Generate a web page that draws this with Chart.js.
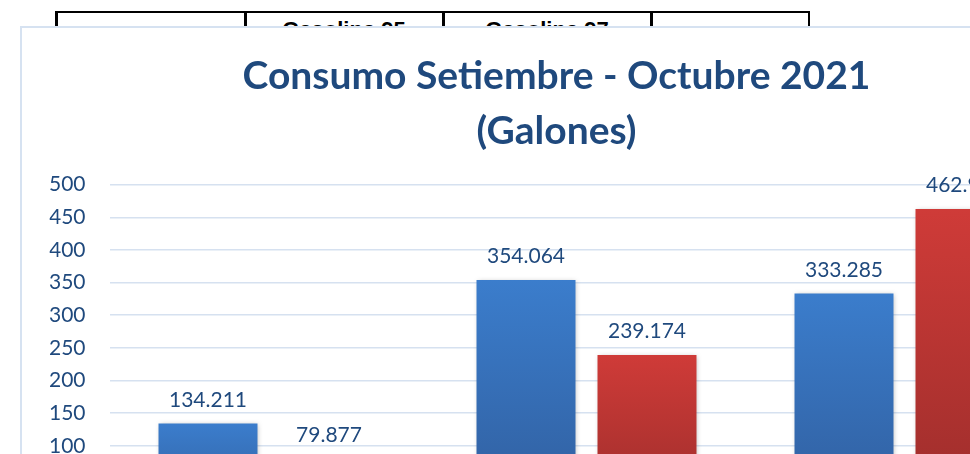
<!DOCTYPE html>
<html><head><meta charset="utf-8">
<script src="https://cdn.jsdelivr.net/npm/chart.js@4.4.0/dist/chart.umd.min.js"></script>
<style>
html,body{margin:0;padding:0;width:970px;height:454px;overflow:hidden;background:#fff;}
.ln{position:absolute;background:#000;}
.th{position:absolute;top:19px;font:bold 22px/22px "Liberation Sans",Arial,sans-serif;color:#000;text-align:center;white-space:nowrap;}
#card{position:absolute;left:20px;top:26px;width:1200px;height:700px;border-left:2px solid #D6E2F1;border-top:2px solid #D6E2F1;background:#fff;}
#c{position:absolute;left:0;top:0;}
</style></head><body>
<div class="ln" style="left:55px;top:10.5px;width:755px;height:2.5px"></div>
<div class="ln" style="left:55px;top:10.5px;width:2.5px;height:40px"></div>
<div class="ln" style="left:244px;top:10.5px;width:2.5px;height:40px"></div>
<div class="ln" style="left:442px;top:10.5px;width:2.5px;height:40px"></div>
<div class="ln" style="left:650px;top:10.5px;width:2.5px;height:40px"></div>
<div class="ln" style="left:807.5px;top:10.5px;width:2.5px;height:40px"></div>
<div class="th" style="left:245px;width:198px">Gasolina 95</div>
<div class="th" style="left:443px;width:208px">Gasolina 97</div>
<div id="card"><canvas id="c" width="1068" height="560"></canvas></div>
<script>
const categories = ["Gasolina 95", "Gasolina 97", "Diesel B5"];
const seriesNames = ["Setiembre", "Octubre"];
const setiembre = [134.211, 354.064, 333.285];
const octubre = [79.877, 239.174, 462.950];
const yTicks = [0, 50, 100, 150, 200, 250, 300, 350, 400, 450, 500];
const titleLines = ["Consumo Setiembre - Octubre 2021", "(Galones)"];

const TXT = '#1F497D';
function grad(top, bottom) {
  return (c) => {
    const chart = c.chart;
    if (c.type !== 'data' || !chart.chartArea || !chart.scales.y) return top;
    const y = chart.scales.y;
    const t = y.getPixelForValue(c.raw), b = y.getPixelForValue(0);
    const g = chart.ctx.createLinearGradient(0, t, 0, b);
    g.addColorStop(0, top); g.addColorStop(1, bottom);
    return g;
  };
}
const shadowPlugin = {
  id: 'shadow',
  beforeDatasetsDraw(chart) {
    const ctx = chart.ctx; ctx.save();
    ctx.shadowColor = 'rgba(0,0,0,0.28)'; ctx.shadowBlur = 5; ctx.shadowOffsetX = 1; ctx.shadowOffsetY = 1;
  },
  afterDatasetsDraw(chart) { chart.ctx.restore(); }
};
const labelPlugin = {
  id: 'vlabels',
  afterDatasetsDraw(chart) {
    const ctx = chart.ctx; ctx.save();
    ctx.font = '21px Lato'; ctx.fillStyle = TXT; ctx.textAlign = 'center'; ctx.textBaseline = 'alphabetic';
    chart.data.datasets.forEach((ds, i) => {
      chart.getDatasetMeta(i).data.forEach((bar, j) => {
        ctx.fillText(ds.data[j].toFixed(3), bar.x, bar.y - 16.5);
      });
    });
    ctx.restore();
  }
};
function build() {
  new Chart(document.getElementById('c'), {
    type: 'bar',
    data: {
      labels: categories,
      datasets: [
        { label: seriesNames[0], data: setiembre, backgroundColor: grad('#3B7DCC', '#305E9E') },
        { label: seriesNames[1], data: octubre, backgroundColor: grad('#CF3B38', '#9C2D2B') }
      ]
    },
    options: {
      responsive: false, animation: false, devicePixelRatio: 1,
      categoryPercentage: 0.761, barPercentage: 0.818,
      layout: { padding: { left: 27.5, right: 26.5, top: 0, bottom: 37 } },
      plugins: {
        legend: { display: false }, tooltip: { enabled: false },
        title: { display: true, text: titleLines, color: TXT,
          font: { family: 'Lato', weight: 'bold', size: 39, lineHeight: 55/39 },
          padding: { top: 20.5, bottom: 26.2 } }
      },
      scales: {
        x: { grid: { display: false }, border: { display: false },
             ticks: { color: TXT, font: { family: 'Lato', size: 21 } },
             afterFit(s) { s.height = 40; } },
        y: { min: 0, max: 500,
             afterBuildTicks(s) { s.ticks = yTicks.map(v => ({ value: v })); },
             grid: { color: '#D6E1F0', lineWidth: 1.5, drawTicks: false },
             border: { display: false },
             ticks: { color: TXT, padding: 24, font: { family: 'Lato', size: 21 } },
             afterFit(s) { s.width = 60; } }
      }
    },
    plugins: [shadowPlugin, labelPlugin]
  });
}
document.fonts.load('bold 39px Lato').then(() => document.fonts.load('21px Lato')).then(build, build);
</script>
</body></html>
